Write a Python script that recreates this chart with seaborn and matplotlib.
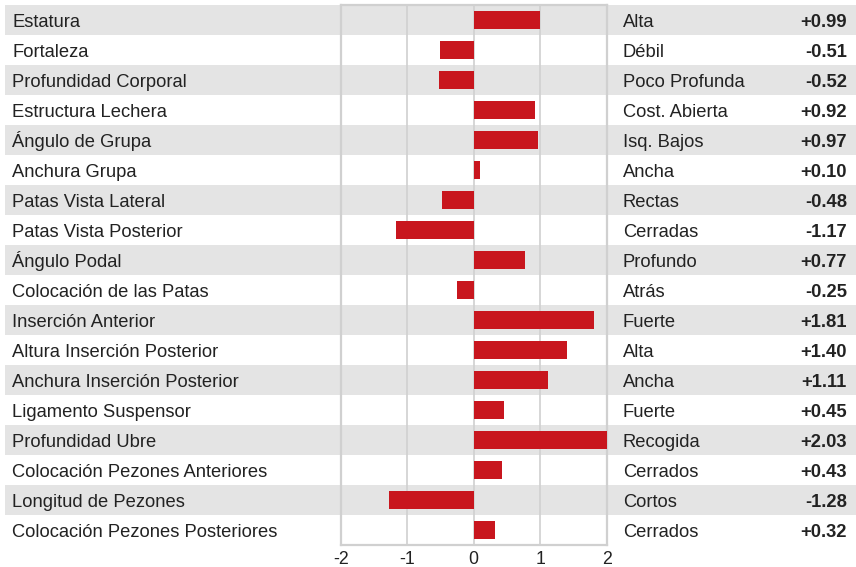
import matplotlib
matplotlib.use("Agg")
import matplotlib.pyplot as plt
import matplotlib.transforms as mtransforms
from matplotlib.patches import Rectangle
import seaborn as sns

# Linear type traits, evaluation (std. units), and interpretation of the sign
traits = [
    "Estatura", "Fortaleza", "Profundidad Corporal", "Estructura Lechera",
    "Ángulo de Grupa", "Anchura Grupa", "Patas Vista Lateral",
    "Patas Vista Posterior", "Ángulo Podal", "Colocación de las Patas",
    "Inserción Anterior", "Altura Inserción Posterior",
    "Anchura Inserción Posterior", "Ligamento Suspensor", "Profundidad Ubre",
    "Colocación Pezones Anteriores", "Longitud de Pezones",
    "Colocación Pezones Posteriores",
]
values = [0.99, -0.51, -0.52, 0.92, 0.97, 0.10, -0.48, -1.17, 0.77, -0.25,
          1.81, 1.40, 1.11, 0.45, 2.03, 0.43, -1.28, 0.32]
meaning = [
    "Alta", "Débil", "Poco Profunda", "Cost. Abierta", "Isq. Bajos", "Ancha",
    "Rectas", "Cerradas", "Profundo", "Atrás", "Fuerte", "Alta", "Ancha",
    "Fuerte", "Recogida", "Cerrados", "Cortos", "Cerrados",
]
xticks = [-2, -1, 0, 1, 2]

sns.set_style("white")
plt.rcParams["font.family"] = ["Liberation Sans", "DejaVu Sans"]

W, H = 856, 567
FS = 13.2
fig = plt.figure(figsize=(W / 100, H / 100), dpi=100)
ax = fig.add_axes([340.7 / W, 22 / H, 266 / W, 540 / H])
ax.set_facecolor("none")

sns.barplot(x=values, y=traits, orient="h", color="#c8161e", width=0.6,
            saturation=1, linewidth=0, ax=ax, zorder=3)

n = len(traits)
ax.set_xlim(-2, 2)
ax.set_ylim(n - 0.5, -0.5)
ax.set_xticks(xticks)
ax.set_xticklabels([str(t) for t in xticks], fontsize=12.8, color="#222222")
ax.set_yticks([])
ax.set_xlabel("")
ax.set_ylabel("")
ax.tick_params(axis="x", length=0, pad=4.5)
for x in xticks[1:-1]:
    ax.axvline(x, color="#d0d0d0", lw=1.2, zorder=1)
for s in ax.spines.values():
    s.set_visible(True)
    s.set_color("#d0d0d0")
    s.set_linewidth(1.6)

trans = mtransforms.blended_transform_factory(fig.transFigure, ax.transData)
for i in range(n):
    if i % 2 == 0:
        fig.patches.append(Rectangle((5 / W, i - 0.5), 1 - 5 / W, 1,
                                     transform=trans, facecolor="#e4e4e4",
                                     edgecolor="none", zorder=-1))
    yb = i + 0.23
    ax.text(12 / W, yb, traits[i], transform=trans, ha="left",
            va="baseline", fontsize=FS, color="#222222")
    ax.text(623 / W, yb, meaning[i], transform=trans, ha="left",
            va="baseline", fontsize=FS, color="#222222")
    ax.text(847 / W, yb, f"{values[i]:+.2f}", transform=trans, ha="right",
            va="baseline", fontsize=FS, fontweight="bold", color="#222222")

fig.savefig("out.png", dpi=100)
